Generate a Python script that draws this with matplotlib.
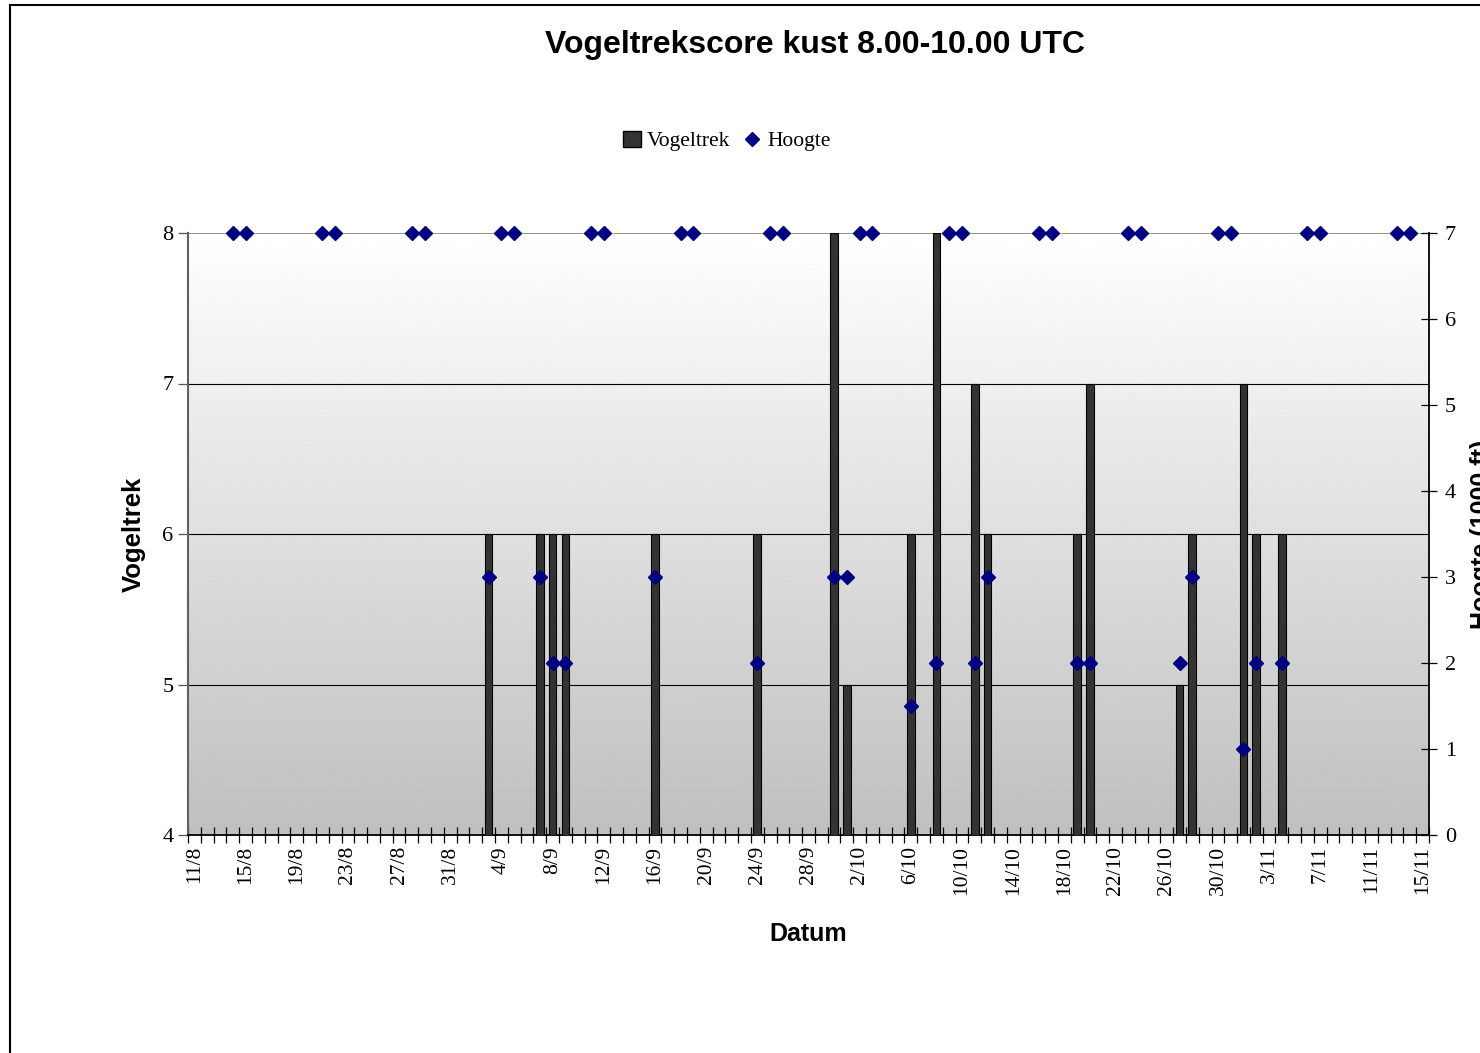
import numpy as np
import pandas as pd
import matplotlib
matplotlib.use('Agg')
import matplotlib.pyplot as plt
from matplotlib.lines import Line2D
from matplotlib.patches import Patch

# periode op de x-as
start_datum = '2004-08-11'
eind_datum = '2004-11-15'

# vogeltrekscore (staven, linker as)
trek_datums = ['3/9', '7/9', '8/9', '9/9', '16/9', '24/9', '30/9', '1/10', '6/10', '8/10',
               '11/10', '12/10', '19/10', '20/10', '27/10', '28/10', '1/11', '2/11', '4/11']
trek_score = [6, 6, 6, 6, 6, 6, 8, 5, 6, 8, 7, 6, 6, 7, 5, 6, 7, 6, 6]

# hoogte in 1000 ft (ruiten, rechter as)
hoogte_datums = ['14/8', '15/8', '21/8', '22/8', '28/8', '29/8', '3/9', '4/9', '5/9', '7/9',
                 '8/9', '9/9', '11/9', '12/9', '16/9', '18/9', '19/9', '24/9', '25/9', '26/9',
                 '30/9', '1/10', '2/10', '3/10', '6/10', '8/10', '9/10', '10/10', '11/10', '12/10',
                 '16/10', '17/10', '19/10', '20/10', '23/10', '24/10', '27/10', '28/10', '30/10',
                 '31/10', '1/11', '2/11', '4/11', '6/11', '7/11', '13/11', '14/11']
hoogte = [7, 7, 7, 7, 7, 7, 3, 7, 7, 3,
          2, 2, 7, 7, 3, 7, 7, 2, 7, 7,
          3, 3, 7, 7, 1.5, 2, 7, 7, 2, 3,
          7, 7, 2, 2, 7, 7, 2, 3, 7,
          7, 1, 2, 2, 7, 7, 7, 7]

t0 = pd.Timestamp(start_datum)
n_dagen = (pd.Timestamp(eind_datum) - t0).days + 1


def dagnr(s):
    d, m = s.split('/')
    return (pd.Timestamp(2004, int(m), int(d)) - t0).days


x_trek = [dagnr(s) for s in trek_datums]
x_hoogte = [dagnr(s) for s in hoogte_datums]
alle_dagen = pd.date_range(start_datum, eind_datum)
labels = [f'{d.day}/{d.month}' for d in alle_dagen]

serif = ['Liberation Serif', 'DejaVu Serif']
sans = ['Liberation Sans', 'DejaVu Sans']

fig = plt.figure(figsize=(14.8, 10.53), dpi=100)
ax = fig.add_axes([188 / 1480, 1 - 835 / 1053, (1429 - 188) / 1480, (835 - 233) / 1053])

# achtergrond met verloop wit -> grijs
grad = np.linspace(1.0, 0.75, 256).reshape(-1, 1)
ax.imshow(grad, cmap='gray', vmin=0, vmax=1, aspect='auto',
          extent=[-0.5, n_dagen - 0.5, 4, 8], zorder=0)

ax.bar(x_trek, trek_score, width=0.6, color='#333333', edgecolor='black', linewidth=0.8, zorder=3)
ax.set_xlim(-0.5, n_dagen - 0.5)
ax.set_ylim(4, 8)
ax.set_yticks([4, 5, 6, 7, 8])
for v in [5, 6, 7]:
    ax.axhline(v, color='black', lw=0.8, zorder=1)
ax.axhline(8, color='#808080', lw=1.2, zorder=1)

ax.set_xticks(np.arange(n_dagen + 1) - 0.5)
ax.set_xticklabels([])
ax.set_xticks(np.arange(0, n_dagen, 4), minor=True)
ax.set_xticklabels(labels[::4], minor=True, rotation=90, family=serif, fontsize=15.5)
ax.tick_params(axis='x', which='major', direction='inout', length=11, width=0.9, color='black')
ax.tick_params(axis='x', which='minor', length=0, pad=8)
ax.tick_params(axis='y', direction='out', length=7, width=0.9, color='#555555', labelsize=16)
for lab in ax.get_yticklabels():
    lab.set_family(serif)

ax.spines['top'].set_visible(False)
ax.spines['right'].set_visible(False)
ax.spines['left'].set_color('#606060')
ax.spines['left'].set_linewidth(1.5)
ax.spines['bottom'].set_linewidth(1.3)
ax.set_xlabel('Datum', family=sans, fontsize=18, fontweight='bold', labelpad=19)
ax.set_ylabel('Vogeltrek', family=sans, fontsize=18.5, fontweight='bold', labelpad=12)

ax2 = ax.twinx()
ax2.plot(x_hoogte, hoogte, linestyle='none', marker='D', markersize=7.2,
         color='#000080', zorder=5, clip_on=False)
ax2.set_ylim(0, 7)
ax2.set_yticks(range(8))
ax2.tick_params(axis='y', direction='inout', length=11, width=0.9, labelsize=16, pad=6)
for lab in ax2.get_yticklabels():
    lab.set_family(serif)
for s in ['top', 'left', 'bottom']:
    ax2.spines[s].set_visible(False)
ax2.spines['right'].set_linewidth(1.3)

# aslabel rechts valt net als in het origineel deels buiten beeld
fig.text(1470 / 1480, 1 - 534 / 1053, 'Hoogte (1000 ft)', rotation=90, ha='left', va='center',
         family=sans, fontsize=18, fontweight='bold')

fig.suptitle('Vogeltrekscore kust 8.00-10.00 UTC', x=815 / 1480, y=1 - 45 / 1053, va='center',
             family=sans, fontsize=23, fontweight='bold')

handles = [Patch(facecolor='#333333', edgecolor='black'),
           Line2D([], [], linestyle='none', marker='D', markersize=7, color='#000080')]
fig.legend(handles, ['Vogeltrek', 'Hoogte'], loc='center', bbox_to_anchor=(727 / 1480, 1 - 141 / 1053),
           ncol=2, frameon=False, prop={'family': serif, 'size': 15.5},
           handlelength=0.8, handleheight=0.8, handletextpad=0.3, columnspacing=0.6)

# kader rond de grafiek
fig.add_artist(Line2D([10 / 1480, 10 / 1480], [0, 1 - 5 / 1053], color='black', lw=1.5))
fig.add_artist(Line2D([10 / 1480, 1], [1 - 5 / 1053, 1 - 5 / 1053], color='black', lw=1.5))

fig.savefig('out.png', dpi=100)
